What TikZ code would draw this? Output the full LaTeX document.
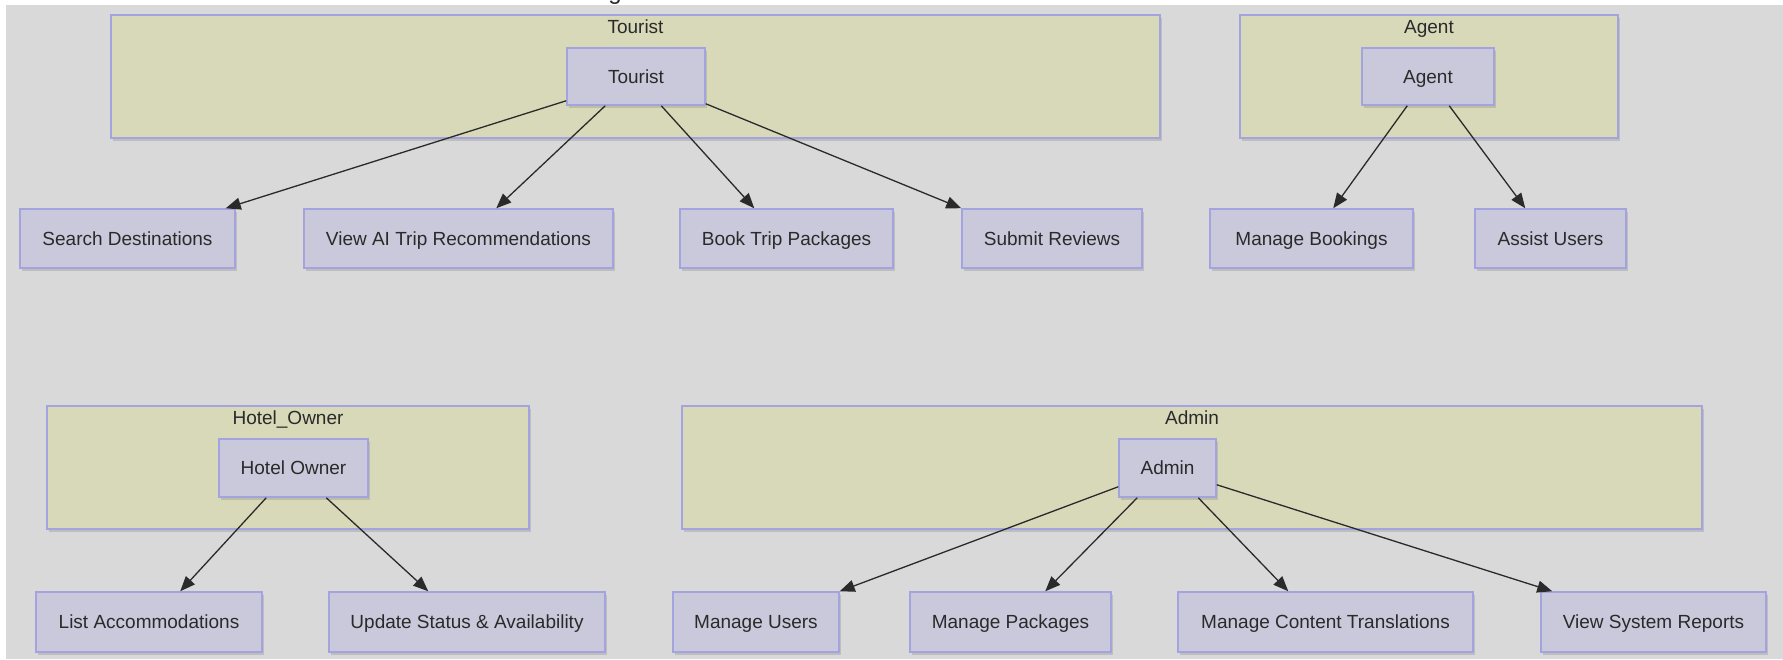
\documentclass[tikz,border=0pt]{standalone}
\usepackage{fontspec}
\setmainfont{Liberation Sans}
\usetikzlibrary{arrows.meta,calc,shadows}
\definecolor{bg}{HTML}{D9D9D9}
\definecolor{grpfill}{HTML}{D8D9B9}
\definecolor{boxfill}{HTML}{C9C9DB}
\definecolor{bordr}{HTML}{A3A3E0}
\definecolor{ink}{HTML}{2A2A2A}
\begin{document}
\begin{tikzpicture}[x=1pt,y=-1pt,
  shade/.style={drop shadow={shadow xshift=2pt,shadow yshift=-2.5pt,opacity=0.12,fill=black}},
  group/.style={draw=bordr,fill=grpfill,line width=1.5pt,shade,inner sep=0pt},
  grouptitle/.style={text=ink,font=\fontsize{19pt}{22pt}\selectfont,inner sep=0pt,
    text height=13.6pt,text depth=0pt},
  box/.style={draw=bordr,fill=boxfill,line width=1.5pt,shade,inner sep=0pt,text=ink,
    font=\fontsize{19pt}{22pt}\selectfont,text height=13.6pt,text depth=0pt},
  edge/.style={draw=ink,line width=1.3pt,-{Triangle[length=15pt,width=12pt]}}
]
\useasboundingbox (0,0) rectangle (1783,659);
\fill[white] (0,0) rectangle (1783,659);
\fill[bg] (6,4.5) rectangle (1783,659);
\begin{scope}
\clip (540,0) rectangle (700,4.5);
\node[anchor=base,text=ink,font=\fontsize{24pt}{28pt}\selectfont,inner sep=0pt] (cut) at (615,-0.5) {g};
\end{scope}

% groups
\node[group,minimum width=1049pt,minimum height=123pt] (gtourist) at (635.5,76.5) {};
\node[group,minimum width=378pt,minimum height=123pt] (gagent) at (1429,76.5) {};
\node[group,minimum width=482pt,minimum height=123pt] (ghotel) at (288,467.5) {};
\node[group,minimum width=1020pt,minimum height=123pt] (gadmin) at (1192,467.5) {};
\node[grouptitle] (ttourist) at ($(gtourist.north)+(0,12)$) {Tourist};
\node[grouptitle] (tagent) at ($(gagent.north)+(0,12)$) {Agent};
\node[grouptitle] (thotel) at ($(ghotel.north)+(0,12.5)$) {Hotel\_Owner};
\node[grouptitle] (tadmin) at ($(gadmin.north)+(0,12.5)$) {Admin};

% actors
\node[box,minimum width=138pt,minimum height=57pt] (tourist) at (636,76.5) {Tourist};
\node[box,minimum width=132pt,minimum height=57pt] (agent) at (1428,76.5) {Agent};
\node[box,minimum width=149pt,minimum height=58pt] (hotel) at (293.5,468) {Hotel Owner};
\node[box,minimum width=97pt,minimum height=58pt] (admin) at (1167.5,468) {Admin};

% row 1
\node[box,minimum width=215pt,minimum height=59pt] (search) at (127.5,238.5) {Search Destinations};
\node[box,minimum width=309pt,minimum height=59pt] (viewai) at (458.5,238.5) {View AI Trip Recommendations};
\node[box,minimum width=213pt,minimum height=59pt] (book) at (786.5,238.5) {Book Trip Packages};
\node[box,minimum width=180pt,minimum height=59pt] (submit) at (1052,238.5) {Submit Reviews};
\node[box,minimum width=203pt,minimum height=59pt] (mbook) at (1311.5,238.5) {Manage Bookings};
\node[box,minimum width=151pt,minimum height=59pt] (assist) at (1550.5,238.5) {Assist Users};

% row 2
\node[box,minimum width=226pt,minimum height=60pt] (list) at (149,622) {List Accommodations};
\node[box,minimum width=276pt,minimum height=60pt] (update) at (467,622) {Update Status \& Availability};
\node[box,minimum width=166pt,minimum height=60pt] (users) at (756,622) {Manage Users};
\node[box,minimum width=201pt,minimum height=60pt] (pkgs) at (1010.5,622) {Manage Packages};
\node[box,minimum width=295pt,minimum height=60pt] (trans) at (1325.5,622) {Manage Content Translations};
\node[box,minimum width=225pt,minimum height=60pt] (reports) at (1653.5,622) {View System Reports};

% edges
\draw[edge] ($(tourist.south west)+(0,-5)$) -- ($(search.north east)+(-10,0)$);
\draw[edge] ($(tourist.south west)+(39,0)$) -- ($(viewai.north west)+(193,0)$);
\draw[edge] ($(tourist.south west)+(95,0)$) -- ($(book.north west)+(75,0)$);
\draw[edge] ($(tourist.south east)+(0,-2)$) -- ($(submit.north west)+(0,0)$);
\draw[edge] ($(agent.south west)+(46,0)$) -- ($(mbook.north west)+(124,0)$);
\draw[edge] ($(agent.south west)+(88,0)$) -- ($(assist.north west)+(51,0)$);
\draw[edge] ($(hotel.south west)+(48,0)$) -- ($(list.north west)+(145,0)$);
\draw[edge] ($(hotel.south west)+(108,0)$) -- ($(update.north west)+(100,0)$);
\draw[edge] ($(admin.south west)+(0,-11)$) -- ($(users.north east)+(0,0)$);
\draw[edge] ($(admin.south west)+(19,0)$) -- ($(pkgs.north west)+(136,0)$);
\draw[edge] ($(admin.south west)+(80,0)$) -- ($(trans.north west)+(111,0)$);
\draw[edge] ($(admin.south east)+(0,-13)$) -- ($(reports.north west)+(12,0)$);
\end{tikzpicture}
\end{document}
